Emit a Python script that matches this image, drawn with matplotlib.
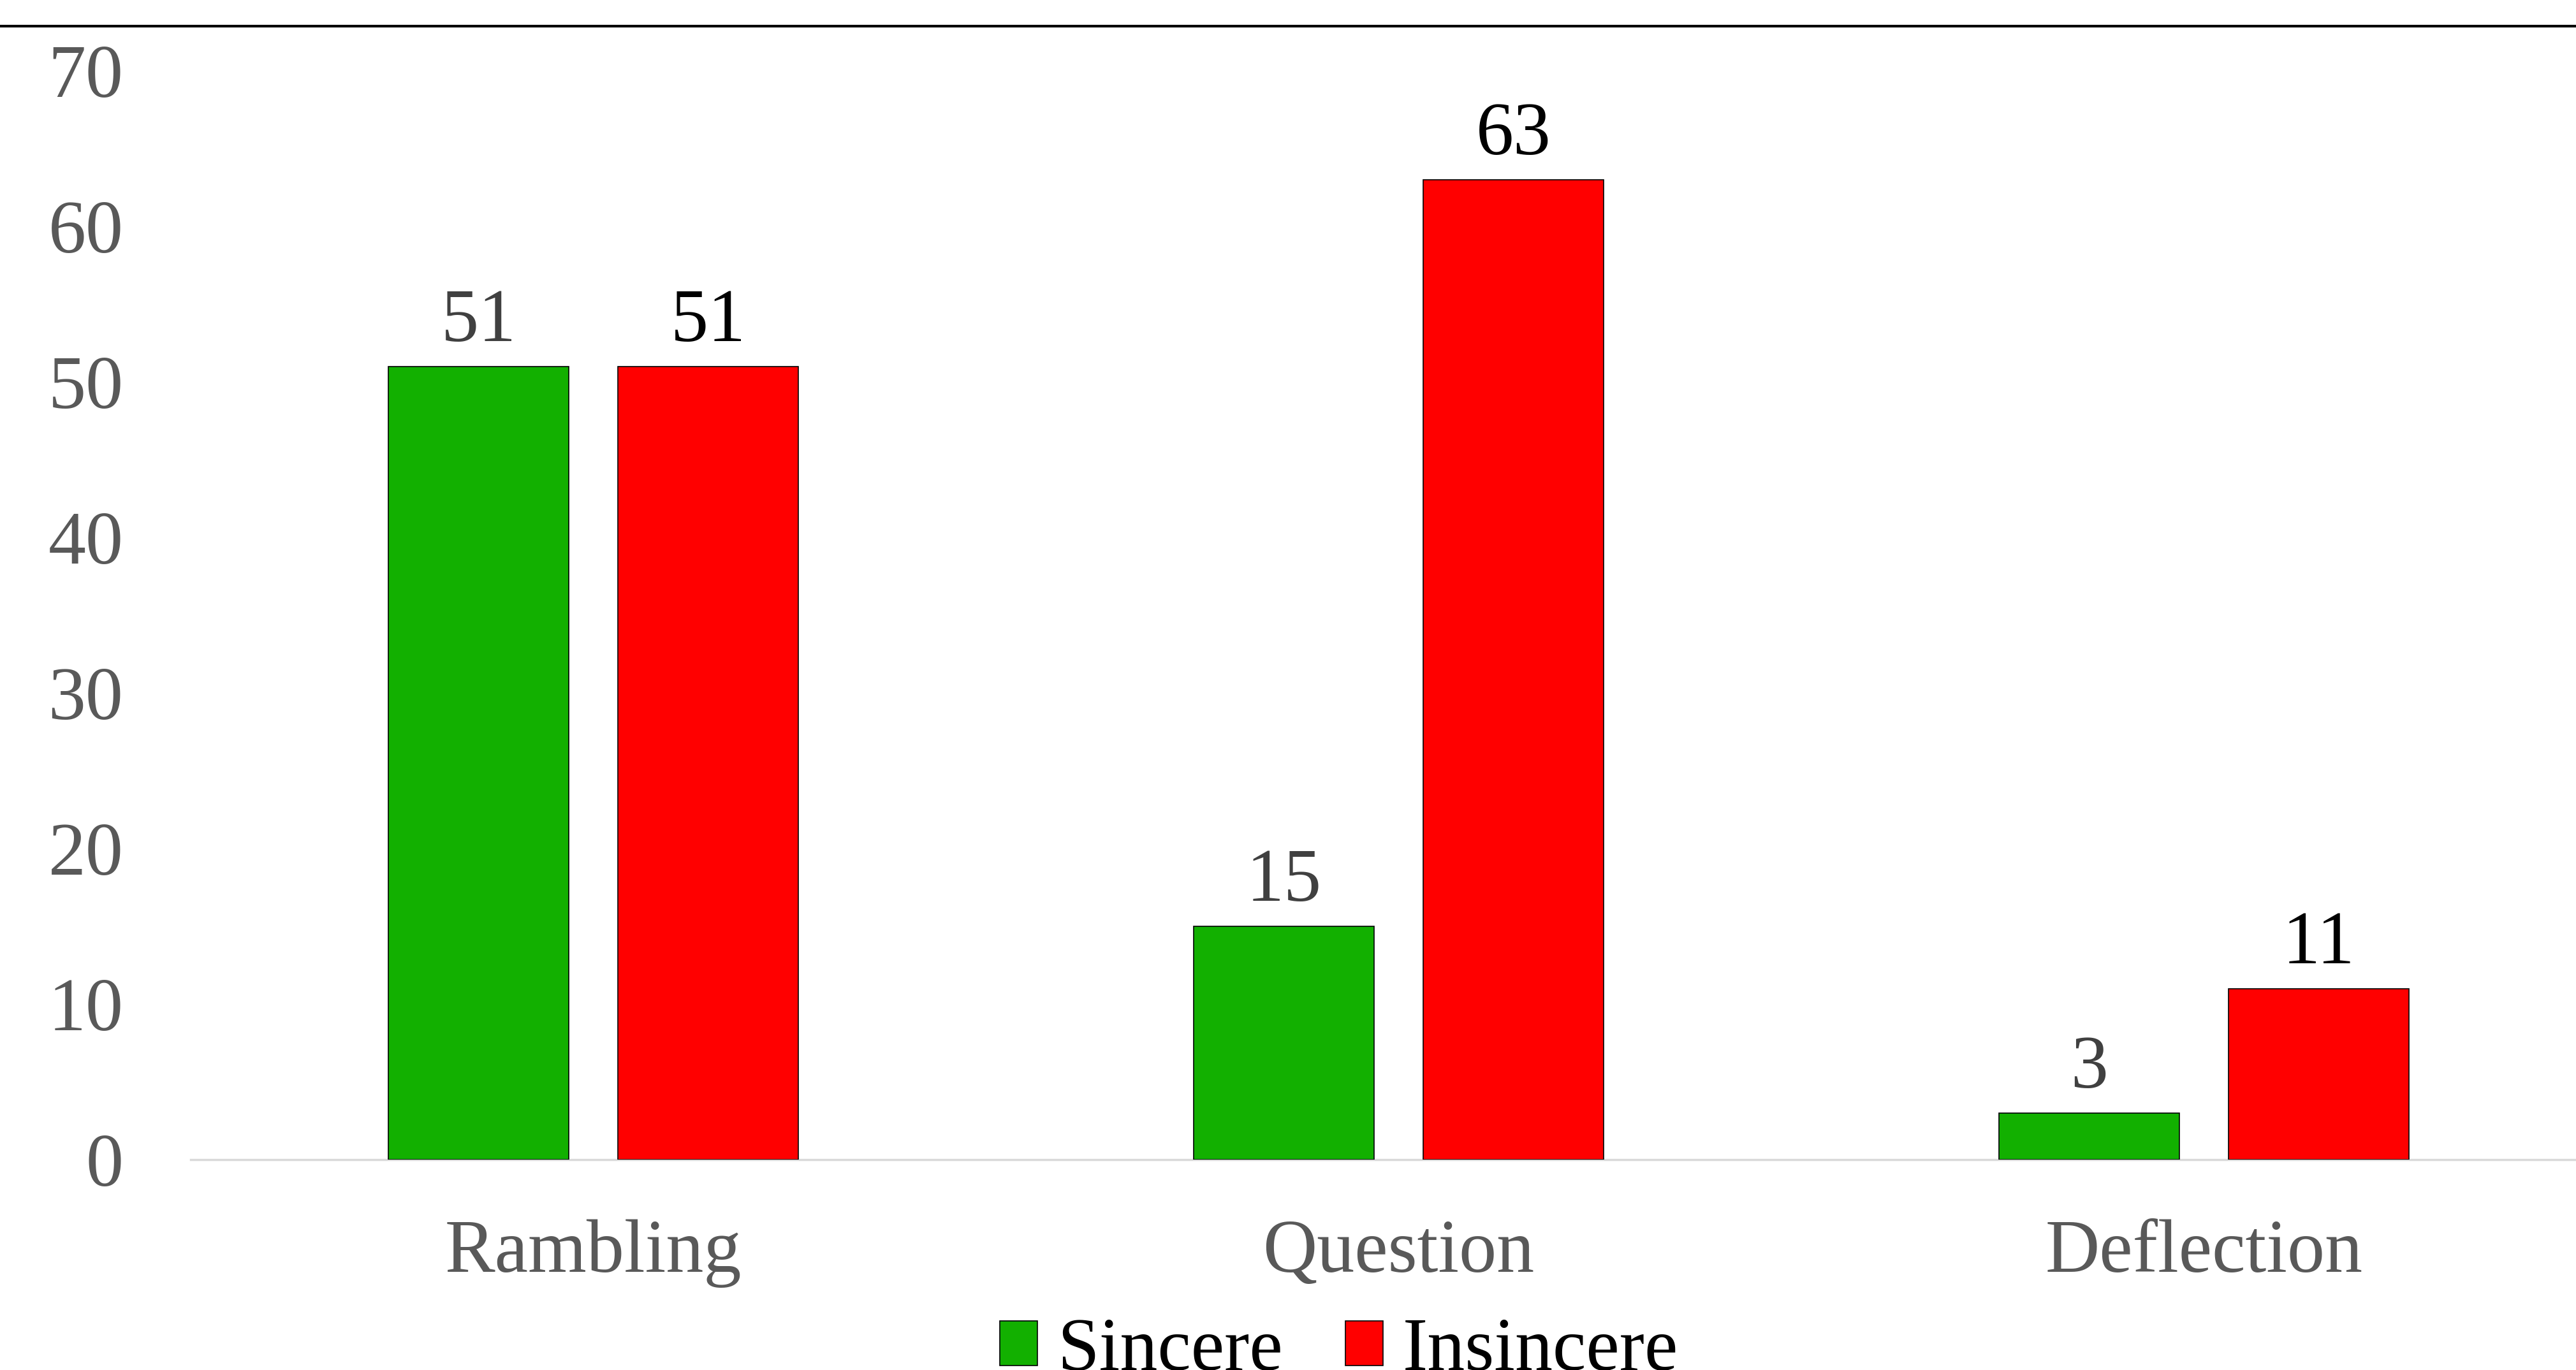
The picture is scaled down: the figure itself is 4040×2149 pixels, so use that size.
import numpy as np
import matplotlib
matplotlib.use('Agg')
import matplotlib.pyplot as plt
from matplotlib.lines import Line2D

# data
categories = ['Rambling', 'Question', 'Deflection']
sincere = [51, 15, 3]
insincere = [51, 63, 11]
series_names = ['Sincere', 'Insincere']
yticks = [0, 10, 20, 30, 40, 50, 60, 70]

plt.rcParams['font.family'] = ['Liberation Serif', 'DejaVu Serif']

W, H = 4041, 2149
fig = plt.figure(figsize=(W / 100, H / 100), dpi=100)
ax = fig.add_axes([299 / W, 1 - 1819 / H, 1 - 299 / W, (1819 - 111) / H])

x = np.arange(len(categories))
bw = 0.224
off = 0.1425
b1 = ax.bar(x - off, sincere, bw, color='#12b000', edgecolor='black', linewidth=1.2,
            label=series_names[0], zorder=3)
b2 = ax.bar(x + off, insincere, bw, color='#ff0000', edgecolor='black', linewidth=1.2,
            label=series_names[1], zorder=3)

# value labels
for rect, v in zip(b1, sincere):
    ax.text(rect.get_x() + rect.get_width() / 2, v + 0.6, str(v), ha='center', va='bottom',
            fontsize=85, color='#404040')
for rect, v in zip(b2, insincere):
    ax.text(rect.get_x() + rect.get_width() / 2, v + 0.6, str(v), ha='center', va='bottom',
            fontsize=85, color='black')

ax.set_xlim(-0.5, -0.5 + (W - 299) / 1263)
ax.set_ylim(0, 70)
ax.set_yticks(yticks)
ax.set_xticks(x)
ax.set_xticklabels(categories)
ax.tick_params(axis='both', length=0, labelsize=85, colors='#595959')
ax.tick_params(axis='y', pad=76)
ax.tick_params(axis='x', pad=67)

for s in ['top', 'right', 'left']:
    ax.spines[s].set_visible(False)
ax.spines['bottom'].set_color('#d9d9d9')
ax.spines['bottom'].set_linewidth(2.5)

# thick rule across the top of the picture
fig.add_artist(Line2D([0, 1], [1 - 41 / H, 1 - 41 / H], color='black', linewidth=3,
                      transform=fig.transFigure))

fig.legend(handles=[b1, b2], loc='center', bbox_to_anchor=(2100 / W, 1 - 2120 / H),
           ncol=2, frameon=False, fontsize=85, handlelength=0.5, handleheight=0.54,
           handletextpad=0.26, columnspacing=0.83, borderaxespad=0)

fig.savefig('out.png', dpi=100)
